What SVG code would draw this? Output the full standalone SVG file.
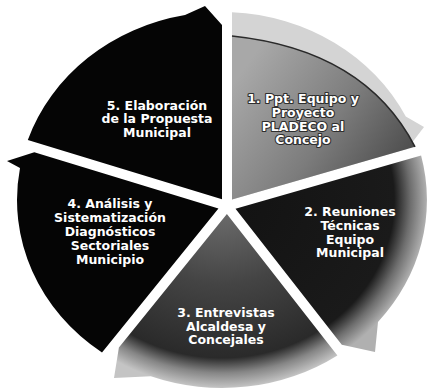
<svg xmlns="http://www.w3.org/2000/svg" width="430" height="392" viewBox="0 0 430 392">
  <defs>
    <style>
      .lbl { font-family: "DejaVu Sans", "Liberation Sans", sans-serif; font-weight: bold; font-size: 12.5px; fill: #ffffff; text-anchor: middle; }
      .lbl1 { stroke: #2e2e2e; stroke-width: 2.2px; paint-order: stroke; stroke-linejoin: round; }
      .black { fill: #050505; }
    </style>
    <linearGradient id="g1in" gradientUnits="userSpaceOnUse" x1="250" y1="60" x2="405" y2="170">
      <stop offset="0" stop-color="#a8a8a8"/>
      <stop offset="0.55" stop-color="#7c7c7c"/>
      <stop offset="1" stop-color="#4a4a4a"/>
    </linearGradient>
    <radialGradient id="g2" gradientUnits="userSpaceOnUse" cx="222" cy="200" r="205" gradientTransform="translate(0,16.6) scale(1,0.917)">
      <stop offset="0" stop-color="#121212"/>
      <stop offset="0.84" stop-color="#1a1a1a"/>
      <stop offset="0.92" stop-color="#6e6e6e"/>
      <stop offset="1" stop-color="#b0b0b0"/>
    </radialGradient>
    <radialGradient id="g3" gradientUnits="userSpaceOnUse" cx="222" cy="200" r="205" gradientTransform="translate(0,16.6) scale(1,0.917)">
      <stop offset="0" stop-color="#727272"/>
      <stop offset="0.45" stop-color="#444444"/>
      <stop offset="0.84" stop-color="#2a2a2a"/>
      <stop offset="0.92" stop-color="#868686"/>
      <stop offset="1" stop-color="#c4c4c4"/>
    </radialGradient>
  </defs>
  <rect width="430" height="392" fill="#ffffff"/>

  <g id="seg1">
    <path fill="#d4d4d4" d="M232 199.4 L232 12.2 A205 188 0 0 1 405.8 116.6 L424 127 L407.2 149 Z"/>
    <path fill="url(#g1in)" d="M232 199.4 L232 36 Q365 50 415 146.8 Z"/>
    <path fill="none" stroke="#2a2a2a" stroke-width="1.6" d="M232 36 Q365 50 415 146.8"/>
    <text class="lbl lbl1" x="303" y="103">1. Ppt. Equipo y</text>
    <text class="lbl lbl1" x="303" y="116.5">Proyecto</text>
    <text class="lbl lbl1" x="303" y="130.5">PLADECO al</text>
    <text class="lbl lbl1" x="303" y="144">Concejo</text>
  </g>

  <g id="seg2">
    <path fill="url(#g2)" d="M235.5 208.8 L421.1 155.4 A205 188 0 0 1 378 321.9 L375 352 L341.8 344.8 Z"/>
    <text class="lbl" x="350" y="216">2. Reuniones</text>
    <text class="lbl" x="350" y="230">Técnicas</text>
    <text class="lbl" x="350" y="243.5">Equipo</text>
    <text class="lbl" x="350" y="257">Municipal</text>
  </g>

  <g id="seg3">
    <path fill="url(#g3)" d="M226.9 214 L337.4 355.4 A205 188 0 0 1 150.8 376.3 L114 378 L118.9 347.5 Z"/>
    <text class="lbl" x="226" y="317">3. Entrevistas</text>
    <text class="lbl" x="226" y="330.5">Alcaldesa y</text>
    <text class="lbl" x="226" y="344">Concejales</text>
  </g>

  <g id="seg4">
    <path class="black" d="M218.45 208.6 L102 352.4 A205 188 0 0 1 20 168 L7 161 L34.3 152.3 Z"/>
    <text class="lbl" x="110" y="207.5">4. Análisis y</text>
    <text class="lbl" x="110" y="221.5">Sistematización</text>
    <text class="lbl" x="110" y="235.5">Diagnósticos</text>
    <text class="lbl" x="110" y="250">Sectoriales</text>
    <text class="lbl" x="110" y="264">Municipio</text>
  </g>

  <g id="seg5">
    <path class="black" d="M222 199.2 L27.8 139.9 A205 188 0 0 1 185 15.1 L205 6 L222 25 Z"/>
    <text class="lbl" x="157" y="109.5">5. Elaboración</text>
    <text class="lbl" x="157" y="123">de la Propuesta</text>
    <text class="lbl" x="157" y="136.5">Municipal</text>
  </g>

  <g id="connectors"></g>
</svg>
